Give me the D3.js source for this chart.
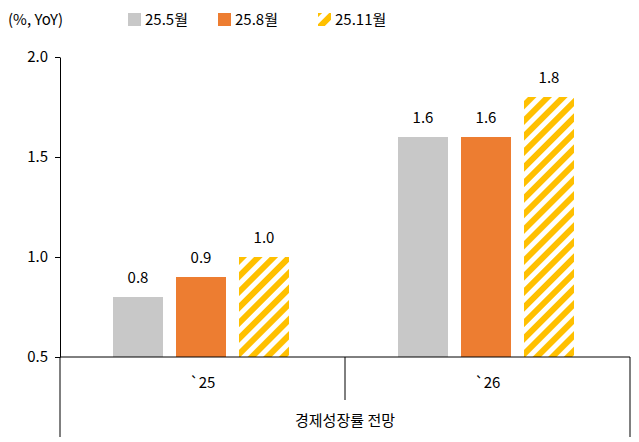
<!DOCTYPE html><html><head><meta charset="utf-8"><script src="https://cdn.jsdelivr.net/npm/d3@7"></script>
<style>body{margin:0;background:#fff}text{font-family:"Noto Sans CJK KR","Noto Sans",sans-serif;fill:#000}</style></head><body><script>
const categories=["`25","`26"];
const series=["25.5월","25.8월","25.11월"];
const values=[[0.8,0.9,1.0],[1.6,1.6,1.8]];
const yTicks=[0.5,1.0,1.5,2.0];
const colors=["#C8C8C8","#ED7D31","#FFC000"];
const W=639,H=442;
const svg=d3.select("body").append("svg").attr("width",W).attr("height",H);
const defs=svg.append("defs");
const p=defs.append("pattern").attr("id","hatch").attr("patternUnits","userSpaceOnUse").attr("width",11).attr("height",11).attr("patternTransform","rotate(45)");
p.append("rect").attr("width",11).attr("height",11).attr("fill","#fff");
p.append("rect").attr("width",6).attr("height",11).attr("fill",colors[2]);
const x0=d3.scaleBand().domain(categories).range([60,630]);
const x1=d3.scaleBand().domain(series).range([53,229]).paddingInner(13/63);
const y=d3.scaleLinear().domain([0.5,2.0]).range([357,57]);
const fill=i=>i==2?"url(#hatch)":colors[i];
categories.forEach((c,ci)=>{
  const g=svg.append("g").attr("transform",`translate(${x0(c)},0)`);
  series.forEach((s,si)=>{
    const v=values[ci][si];
    g.append("rect").attr("x",x1(s)).attr("width",x1.bandwidth()).attr("y",y(v)).attr("height",y(0.5)-y(v)).attr("fill",fill(si));
    g.append("text").attr("x",x1(s)+x1.bandwidth()/2).attr("y",y(v)-14).attr("text-anchor","middle").attr("font-size",15).text(v.toFixed(1));
  });
  svg.append("text").attr("x",x0(c)+x0.bandwidth()/2).attr("y",388).attr("text-anchor","middle").attr("font-size",15).text(c);
});
svg.append("g").attr("transform","translate(60,0)").call(d3.axisLeft(y).tickValues(yTicks).tickFormat(d3.format(".1f")).tickSize(5).tickSizeOuter(0))
  .call(g=>{g.selectAll("text").attr("font-size",15).attr("x",-12).style("font-family",'"Noto Sans CJK KR",sans-serif');g.select(".domain").attr("stroke","#000");});
const line=(x1_,y1_,x2_,y2_)=>svg.append("line").attr("x1",x1_).attr("y1",y1_).attr("x2",x2_).attr("y2",y2_).attr("stroke","#000");
line(60,357,630,357);line(60,357,60,437);line(630,357,630,437);line(x0(categories[1]),357,x0(categories[1]),400);
svg.append("text").attr("x",345).attr("y",426).attr("text-anchor","middle").attr("font-size",15).text("경제성장률 전망");
svg.append("text").attr("x",8).attr("y",25).attr("font-size",15).text("(%, YoY)");
const lx=[128,218,318];
series.forEach((s,i)=>{
  svg.append("rect").attr("x",lx[i]).attr("y",13).attr("width",13).attr("height",13).attr("fill",fill(i));
  svg.append("text").attr("x",lx[i]+17).attr("y",25).attr("font-size",15).text(s);
});
</script></body></html>
